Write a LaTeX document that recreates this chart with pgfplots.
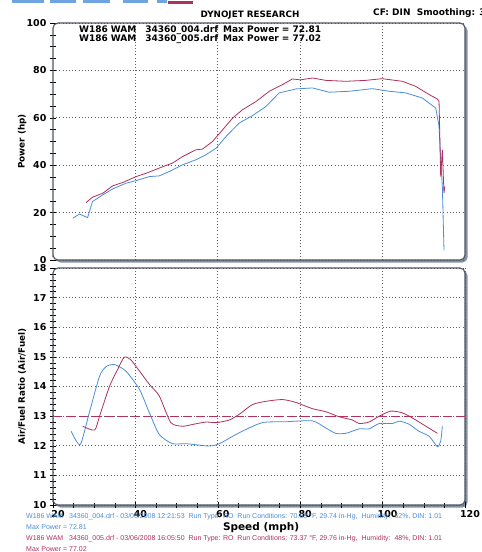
\documentclass[border=0pt]{standalone}
\usepackage{pgfplots}
\pgfplotsset{compat=1.18}
\usepackage{fontspec}
\setmainfont{DejaVu Sans}
\newfontfamily\footfont{Liberation Sans}
\usetikzlibrary{shadows}
\definecolor{runblue}{HTML}{4A8EDA}
\definecolor{runred}{HTML}{B0305E}
\definecolor{frame}{HTML}{505560}
\definecolor{shade}{HTML}{8492A6}

\pgfplotsset{
  dyno/.style={
    scale only axis, width=412pt, height=237pt,
    xmin=20, xmax=120,
    axis line style={frame, line width=1.1pt, rounded corners=5pt},
    axis background/.style={fill=white, rounded corners=5pt,
      drop shadow={shadow xshift=2.5pt, shadow yshift=-2.5pt, fill=shade, opacity=1}},
    grid style={gray!75!black, dash pattern=on 0.8pt off 2.4pt, line width=0.7pt},
    xmajorgrids, ymajorgrids,
    tick style={black, line width=0.5pt},
    tick align=center, tickpos=left,
    major tick length=6pt, minor tick length=5pt,
    /pgf/number format/assume math mode=true,
    tick label style={font=\bfseries\fontsize{9.5}{10}\selectfont},
    every axis y label/.style={at={(axis description cs:-0.075,0.5)}, rotate=90, anchor=center,
      font=\bfseries\fontsize{8.8}{10}\selectfont},
  },
}

\begin{document}
\begin{tikzpicture}
\path[use as bounding box] (0,0) rectangle (482pt,-552pt);

% bottom edge of the cut-off logo
\fill[runblue!80] (12pt,0) rectangle (44pt,-3pt);
\fill[runblue!80] (50pt,0) rectangle (76pt,-3pt);
\fill[runblue!80] (83pt,0) rectangle (110pt,-3pt);
\fill[runblue!80] (123pt,0) rectangle (148pt,-3pt);
\fill[runblue!80] (157pt,0) rectangle (167pt,-3pt);
\fill[runred] (168pt,-1pt) rectangle (193pt,-3.5pt);

\node[font=\bfseries\fontsize{8.8}{9}\selectfont] at (250pt,-15pt) {DYNOJET RESEARCH};
\node[font=\bfseries\fontsize{9}{10}\selectfont, anchor=west, inner sep=0pt] at (373pt,-13pt) {CF: DIN\ \ Smoothing: 3};

% power
\begin{axis}[dyno,
  at={(53pt,-260pt)}, anchor=south west,
  ymin=0, ymax=100,
  ytick={0,20,...,100}, minor ytick={5,10,...,95},
  xtick={40,60,80,100}, xticklabels={}, xtick style={draw=none},
  ylabel={Power (hp)},
  legend style={draw=none, fill=none, at={(axis description cs:0.058,0.998)}, anchor=north west,
    font=\bfseries\fontsize{9}{10}\selectfont, row sep=-3.5pt, inner sep=0pt},
  legend cell align=left,
  legend image code/.code={},
]
\addplot[color=runblue, line width=0.8pt] coordinates {
(24.8,17.6)(26.4,19.4)(28.4,17.9)(29.6,24.7)(32.1,27.5)(34.5,30.0)(37.7,32.4)(40.2,33.5)
(43.4,35.2)(45.8,35.5)(48.2,37.3)(51.5,40.2)(54.7,42.3)(57.1,44.4)(59.6,47.2)(62.0,52.1)
(65.2,57.8)(68.4,60.9)(71.7,64.8)(74.9,70.5)(79.0,72.2)(83.0,72.6)(87.0,70.8)(91.9,71.2)
(97.5,72.3)(101.6,71.2)(105.6,70.5)(109.6,68.4)(112.9,64.1)(113.7,56.4)(114.1,42.3)
(114.5,31.0)(114.9,4.2)};
\addplot[color=runred, line width=0.8pt] coordinates {
(28.0,24.2)(29.6,26.5)(32.1,28.2)(34.5,31.3)(36.9,32.7)(40.2,35.2)(42.6,36.6)(45.8,38.8)
(49.0,40.9)(51.5,43.7)(54.7,46.5)(56.3,46.8)(58.7,50.0)(61.2,55.0)(63.6,59.9)(66.0,63.4)
(69.3,66.9)(72.5,71.2)(75.7,74.0)(78.1,76.4)(80.0,76.0)(83.0,76.8)(86.2,75.8)(91.1,75.4)
(95.9,75.8)(99.9,76.5)(104.8,75.4)(108.0,73.3)(111.3,69.8)(113.3,67.9)(113.7,66.9)
(114.1,35.2)(114.5,46.5)(114.9,28.2)(115.1,31.0)};
\legend{W186 WAM\hspace{9pt}34360\_004.drf\hspace{5pt}Max Power = 72.81,
        W186 WAM\hspace{9pt}34360\_005.drf\hspace{5pt}Max Power = 77.02}
\end{axis}

% air/fuel
\begin{axis}[dyno,
  at={(53pt,-505pt)}, anchor=south west,
  ymin=10, ymax=18,
  ytick={10,11,...,18}, minor y tick num=4,
  xtick={20,40,...,120}, minor x tick num=3,
  xticklabel style={xshift=5pt, yshift=1.5pt},
  ylabel={Air/Fuel Ratio (Air/Fuel)},
  xlabel={Speed (mph)},
  every axis x label/.style={at={(axis description cs:0.505,-0.096)}, anchor=center,
    font=\bfseries\fontsize{10.5}{12}\selectfont},
]
\addplot[color=runred, dash pattern=on 9pt off 4pt, line width=0.8pt] coordinates {(20,13)(120,13)};
\addplot[color=runblue, line width=0.8pt, smooth, tension=0.4] coordinates {
(24.4,12.49)(26.6,12.04)(28.8,13.11)(31.3,14.35)(32.9,14.67)(34.9,14.74)(37.7,14.52)
(41.0,13.9)(43.4,13.11)(45.8,12.38)(49.0,12.07)(52.3,12.07)(57.9,11.99)(60.4,12.07)
(65.2,12.44)(70.8,12.78)(76.5,12.81)(83.0,12.84)(86.2,12.6)(88.6,12.42)(91.1,12.42)
(94.3,12.57)(96.7,12.57)(99.2,12.75)(102.4,12.75)(104.0,12.83)(106.4,12.73)(108.8,12.49)
(111.3,12.32)(113.3,11.97)(114.1,12.16)(114.5,12.66)};
\addplot[color=runred, line width=0.8pt, smooth, tension=0.4] coordinates {
(27.2,12.66)(30.1,12.53)(31.3,13.0)(33.7,14.0)(35.7,14.58)(37.3,14.99)(38.9,14.9)
(41.0,14.52)(43.4,14.07)(45.8,13.68)(48.6,12.78)(51.5,12.66)(53.9,12.72)(57.1,12.8)
(59.6,12.78)(62.8,12.87)(65.2,13.06)(68.4,13.39)(71.7,13.5)(75.7,13.56)(79.0,13.46)
(83.0,13.25)(86.2,13.15)(89.4,12.98)(92.7,12.87)(94.3,12.75)(96.7,12.8)(99.2,13.0)
(102.0,13.17)(104.8,13.11)(107.2,12.94)(110.5,12.66)(113.3,12.42)};
\end{axis}

\begin{scope}[every node/.style={anchor=west, inner sep=0pt, font=\footfont\fontsize{7}{7.4}\selectfont}]
\node[text=runblue] at (26pt,-517pt) {W186 WAM\ \ \ 34360\_004.drf - 03/06/2008 12:21:53\ \ Run Type: RO\ \ Run Conditions: 70.63 °F, 29.74 in-Hg,\ \ Humidity:\ \ 62\%, DIN: 1.01};
\node[text=runblue] at (26pt,-527pt) {Max Power = 72.81};
\node[text=runred] at (26pt,-539pt) {W186 WAM\ \ \ 34360\_005.drf - 03/06/2008 16:05:50\ \ Run Type: RO\ \ Run Conditions: 73.37 °F, 29.76 in-Hg,\ \ Humidity:\ \ 48\%, DIN: 1.01};
\node[text=runred] at (26pt,-549pt) {Max Power = 77.02};
\end{scope}
\end{tikzpicture}
\end{document}
